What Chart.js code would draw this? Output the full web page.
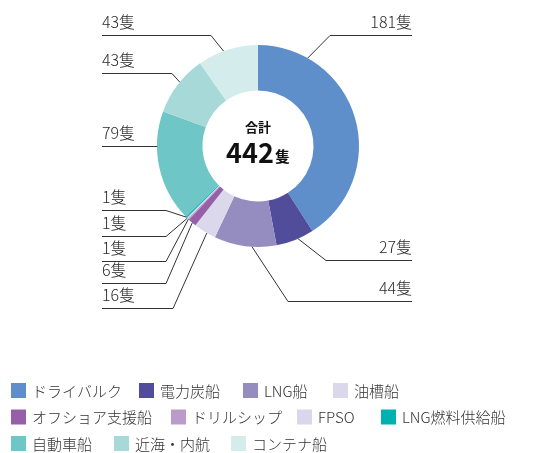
<!DOCTYPE html>
<html>
<head>
<meta charset="utf-8">
<script src="https://cdn.jsdelivr.net/npm/chart.js@4"></script>
<style>
  html, body { margin: 0; padding: 0; background: #fff; }
  #wrap { width: 537px; height: 453px; position: relative; }
</style>
</head>
<body>
<div id="wrap"><canvas id="c" width="537" height="453"></canvas></div>
<script>
const categories = ['ドライバルク','電力炭船','LNG船','油槽船','オフショア支援船','ドリルシップ','FPSO','LNG燃料供給船','自動車船','近海・内航','コンテナ船'];
const shipCounts = [181, 27, 44, 16, 6, 1, 1, 1, 79, 43, 43];
const sliceColors = ['#5E8FCB','#524D9A','#958CC0','#DCD8EC','#9560A8','#BC9BCB','#DAD6EB','#00B1B0','#6EC6C6','#A8D9D9','#D5ECEC'];
const unitLabel = '隻';
const totalTitle = '合計';
const legendRows = [[0,1,2,3],[4,5,6,7],[8,9,10]];

const FONT = '"Noto Sans CJK JP", "Noto Sans", sans-serif';
const total = shipCounts.reduce((a, b) => a + b, 0);

// legend item left positions per row (layout)
const legendX = [[11,139,243,333],[11,171,297,381],[11,114,231]];

// leader-line layout: anchor fraction along slice, elbow point, line end x
const leader = [
  { f: 0.20, ex: 330, ey: 35,  end: 412 },
  { f: 0.42, ex: 326, ey: 260, end: 412 },
  { f: 0.39, ex: 288, ey: 301, end: 412 },
  { f: 0.40, ex: 173, ey: 308, end: 102 },
  { f: 0.47, ex: 166, ey: 283, end: 102 },
  { f: 0.50, ex: 166, ey: 261, end: 102 },
  { f: 0.50, ex: 166, ey: 236, end: 102 },
  { f: 0.50, ex: 166, ey: 210, end: 102 },
  { f: 0.69, ex: 157, ey: 146, end: 102 },
  { f: 0.55, ex: 172, ey: 73,  end: 102 },
  { f: 0.43, ex: 211, ey: 35,  end: 102 }
];

const overlay = {
  id: 'overlay',
  afterDraw(chart) {
    const ctx = chart.ctx;
    const meta = chart.getDatasetMeta(0);
    ctx.save();
    // leader lines + labels
    meta.data.forEach((arc, i) => {
      const L = leader[i];
      const a = arc.startAngle + (arc.endAngle - arc.startAngle) * L.f;
      const r = arc.outerRadius;
      const ax = arc.x + Math.cos(a) * r;
      const ay = arc.y + Math.sin(a) * r;
      ctx.strokeStyle = '#333';
      ctx.lineWidth = 1;
      ctx.beginPath();
      ctx.moveTo(ax, ay);
      ctx.lineTo(L.ex, L.ey + 0.5);
      ctx.lineTo(L.end, L.ey + 0.5);
      ctx.stroke();
      ctx.fillStyle = '#2a2a2a';
      ctx.font = '300 16px ' + FONT;
      ctx.textBaseline = 'alphabetic';
      ctx.textAlign = L.end > arc.x ? 'right' : 'left';
      ctx.fillText(shipCounts[i] + unitLabel, L.end, L.ey - 7);
    });
    // center text
    const cx = meta.data[0].x, cy = meta.data[0].y;
    ctx.fillStyle = '#111';
    ctx.textAlign = 'center';
    ctx.textBaseline = 'middle';
    ctx.font = 'bold 13px ' + FONT;
    ctx.fillText(totalTitle, cx, cy - 19);
    ctx.font = 'bold 27px ' + FONT;
    const numW = ctx.measureText(String(total)).width;
    ctx.font = 'bold 15px ' + FONT;
    const uW = ctx.measureText(unitLabel).width;
    const startX = cx - (numW + uW + 1) / 2;
    ctx.textAlign = 'left';
    ctx.textBaseline = 'alphabetic';
    ctx.font = 'bold 27px ' + FONT;
    ctx.fillText(String(total), startX, cy + 17);
    ctx.font = 'bold 15px ' + FONT;
    ctx.fillText(unitLabel, startX + numW + 1, cy + 16);
    // legend
    ctx.font = '300 15px ' + FONT;
    ctx.textBaseline = 'middle';
    ctx.textAlign = 'left';
    legendRows.forEach((row, ri) => {
      const y = 391 + ri * 26.5;
      row.forEach((i, k) => {
        const x = legendX[ri][k];
        ctx.fillStyle = sliceColors[i];
        ctx.fillRect(x, y - 8, 15, 15);
        ctx.fillStyle = '#333';
        ctx.fillText(categories[i], x + 21, y);
      });
    });
    ctx.restore();
  }
};

new Chart(document.getElementById('c'), {
  type: 'doughnut',
  data: {
    labels: categories,
    datasets: [{
      data: shipCounts,
      backgroundColor: sliceColors,
      borderWidth: 0
    }]
  },
  options: {
    responsive: false,
    animation: false,
    cutout: '55%',
    layout: { padding: { left: 157, right: 178, top: 45, bottom: 206 } },
    plugins: { legend: { display: false }, tooltip: { enabled: false } }
  },
  plugins: [overlay]
});
</script>
</body>
</html>
